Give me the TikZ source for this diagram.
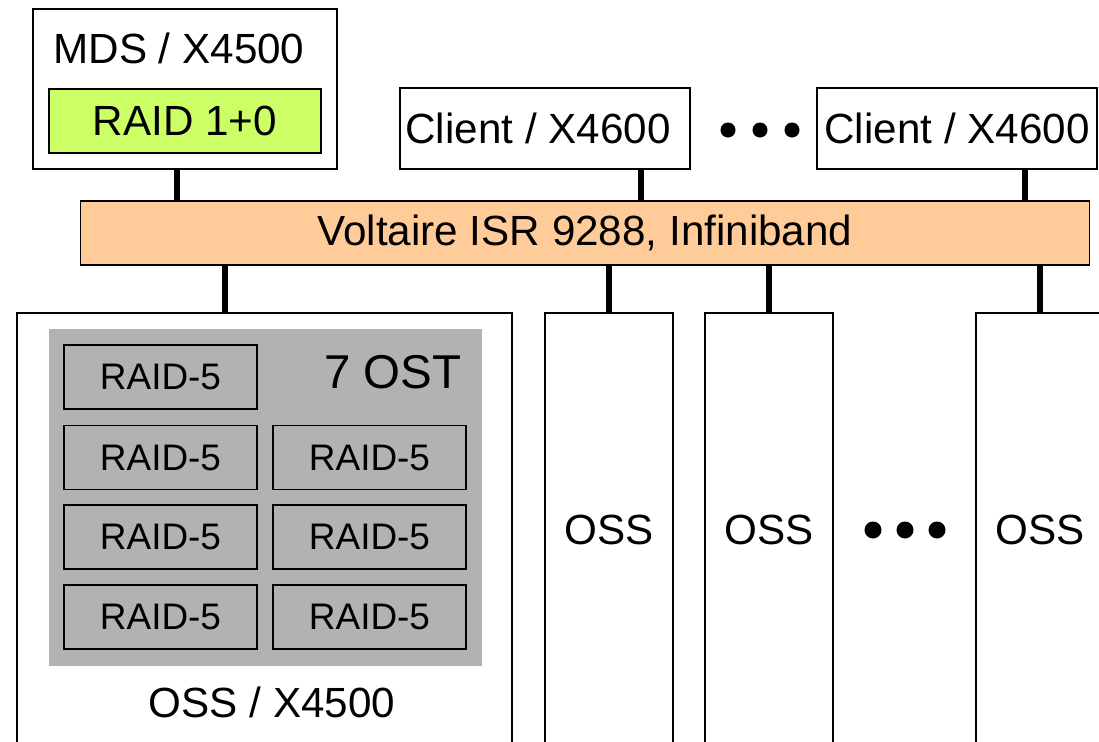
\documentclass[tikz,border=0pt]{standalone}
\usepackage{fontspec}
\setmainfont{Liberation Sans}
\usetikzlibrary{positioning, calc}
\definecolor{raidGreen}{RGB}{204,255,102}
\definecolor{ibOrange}{RGB}{255,204,153}
\definecolor{ostGray}{RGB}{178,178,178}

\begin{document}
\begin{tikzpicture}[x=0.01cm, y=-0.01cm,
    box/.style={draw, line width=0.45pt, inner sep=0pt},
    link/.style={line width=1.7pt},
    dot/.style={circle, fill=black, inner sep=0pt, minimum size=#1},
    txt/.style={font=\fontsize{12}{14}\selectfont},
    raidbox/.style={box, minimum width=1.93cm, minimum height=0.64cm, font=\fontsize{10.5}{12}\selectfont}]
  \clip (0,0) rectangle (1099,741);
  \fill[white] (0,0) rectangle (1099,741);

  % metadata server
  \node[box, fill=white, minimum width=3.04cm, minimum height=1.6cm] (mds) at (185,89) {};
  \node[txt] (mdslabel) at (179,48) {MDS / X4500};
  \node[box, fill=raidGreen, minimum width=2.72cm, minimum height=0.64cm, txt] (raid10) at (185,121) {RAID 1+0};

  % clients
  \node[box, minimum width=2.9cm, minimum height=0.81cm] (client1) at (545,128.5) {};
  \node[txt] (client1label) at (538,128.5) {Client / X4600};
  \node[box, minimum width=2.8cm, minimum height=0.81cm, txt] (client2) at (957,128.5) {Client / X4600};
  \foreach \x in {728,760,792}
    \node[dot=0.15cm] (cdot\x) at (\x,130) {};

  % switch
  \node[box, fill=ibOrange, minimum width=10.08cm, minimum height=0.64cm, txt] (ib) at (585,233) {Voltaire ISR 9288, Infiniband};

  % object storage server with its targets
  \node[box, fill=white, minimum width=4.95cm, minimum height=4.47cm] (ossbig) at (264.5,536.5) {};
  \node[fill=ostGray, inner sep=0pt, minimum width=4.33cm, minimum height=3.37cm] (ost) at (265.5,497.5) {};
  \node[font=\fontsize{13.5}{16}\selectfont] (ostlabel) at (393,372) {7 OST};
  \node[raidbox] (raid11) at (160.5,377) {RAID-5};
  \foreach \r/\y in {2/457.5,3/537,4/617}
    \foreach \c/\x in {1/160.5,2/369.5}
      \node[raidbox] (raid\r\c) at (\x,\y) {RAID-5};
  \node[txt] (osslabel) at (272,702) {OSS / X4500};

  % other servers
  \foreach \x/\n in {609/a,769/b,1040/c}
    \node[box, fill=white, minimum width=1.285cm, minimum height=4.34cm, txt] (oss\n) at (\x,530) {OSS};
  \foreach \x in {873,905,937}
    \node[dot=0.17cm] (odot\x) at (\x,530) {};

  % links
  \draw[link] (mds.south -| 177,0) -- (ib.north -| 177,0);
  \draw[link] (client1.south -| 641,0) -- (ib.north -| 641,0);
  \draw[link] (client2.south -| 1025,0) -- (ib.north -| 1025,0);
  \draw[link] (ib.south -| 225,0) -- (ossbig.north -| 225,0);
  \foreach \n in {a,b,c}
    \draw[link] (ib.south -| oss\n.north) -- (oss\n.north);
\end{tikzpicture}
\end{document}
